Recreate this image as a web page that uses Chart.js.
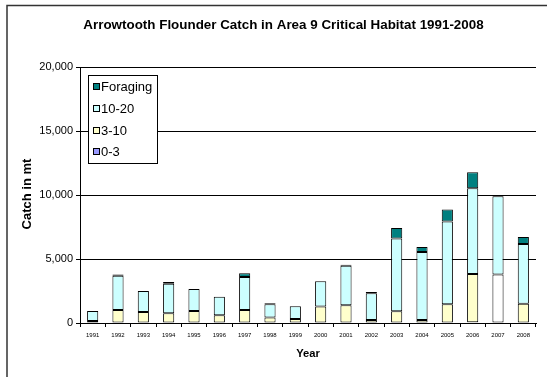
<!DOCTYPE html>
<html>
<head>
<meta charset="utf-8">
<script src="https://cdn.jsdelivr.net/npm/chart.js@4.4.1/dist/chart.umd.min.js"></script>
<style>
html,body{margin:0;padding:0;background:#fff;}
#wrap{width:547px;height:377px;position:relative;}
</style>
</head>
<body>
<div id="wrap"><canvas id="c" width="547" height="377"></canvas></div>
<script>
const chartTitle = 'Arrowtooth Flounder Catch in Area 9 Critical Habitat 1991-2008';
const xTitle = 'Year';
const yTitle = 'Catch in mt';
const years = ['1991','1992','1993','1994','1995','1996','1997','1998','1999','2000','2001','2002','2003','2004','2005','2006','2007','2008'];
const seriesNames = ['0-3','3-10','10-20','Foraging'];
const catch0to3 =   [0, 40, 0, 0, 0, 0, 0, 0, 0, 0, 0, 0, 0, 0, 0, 60, 0, 0];
const catch3to10 =  [150, 970, 860, 755, 940, 600, 1015, 420, 310, 1280, 1380, 235, 910, 235, 1460, 3770, 3780, 1510];
const catch10to20 = [790, 2680, 1640, 2320, 1720, 1460, 2580, 1040, 990, 1980, 3100, 2080, 5700, 5310, 6460, 6690, 6120, 4660];
const catchForaging = [0, 100, 0, 130, 0, 0, 290, 80, 0, 0, 80, 100, 810, 390, 940, 1250, 50, 550];
const yTicks = [0, 5000, 10000, 15000, 20000];

const col3to10 = years.map(y => y === '2007' ? '#FFFFFF' : '#FFFFCC');

const FONT = 'Arial, "Liberation Sans", sans-serif';

const decor = {
  id: 'decor',
  afterDraw(chart) {
    const ctx = chart.ctx;
    const ca = chart.chartArea;
    ctx.save();
    // outer frame
    ctx.strokeStyle = '#333';
    ctx.lineWidth = 1.5;
    ctx.beginPath();
    ctx.moveTo(7, 400);
    ctx.lineTo(7, 5.5);
    ctx.lineTo(600, 5.5);
    ctx.stroke();
    // title
    ctx.fillStyle = '#000';
    ctx.font = 'bold 13.4px ' + FONT;
    ctx.textAlign = 'center';
    ctx.textBaseline = 'middle';
    ctx.fillText(chartTitle, 283.5, 25);
    // x title
    ctx.font = 'bold 11.2px ' + FONT;
    ctx.fillText(xTitle, (ca.left + ca.right) / 2, 354);
    // y title
    ctx.save();
    ctx.font = 'bold 13px ' + FONT;
    ctx.translate(27, 194);
    ctx.rotate(-Math.PI / 2);
    ctx.fillText(yTitle, 0, 0);
    ctx.restore();
    // legend
    const lx = 88, ly = 75, lw = 69, lh = 88;
    ctx.fillStyle = '#fff';
    ctx.fillRect(lx, ly, lw, lh);
    ctx.strokeStyle = '#000';
    ctx.lineWidth = 1;
    ctx.strokeRect(lx + 0.5, ly + 0.5, lw, lh);
    const ds = chart.data.datasets.slice().reverse();
    const rows = [87, 109, 131, 152];
    ctx.font = '13px ' + FONT;
    ctx.textAlign = 'left';
    ds.forEach((d, i) => {
      const y = rows[i];
      const bg = Array.isArray(d.backgroundColor) ? d.backgroundColor[0] : d.backgroundColor;
      ctx.fillStyle = bg;
      ctx.fillRect(93.5, y - 3.5, 6, 6);
      ctx.strokeStyle = '#000';
      ctx.strokeRect(93.5, y - 3.5, 6, 6);
      ctx.fillStyle = '#000';
      ctx.fillText(d.label, 101, y);
    });
    ctx.restore();
  }
};

new Chart(document.getElementById('c'), {
  type: 'bar',
  data: {
    labels: years,
    datasets: [
      { label: seriesNames[0], data: catch0to3, backgroundColor: '#9999FF' },
      { label: seriesNames[1], data: catch3to10, backgroundColor: col3to10 },
      { label: seriesNames[2], data: catch10to20, backgroundColor: '#CCFFFF' },
      { label: seriesNames[3], data: catchForaging, backgroundColor: '#008080' }
    ]
  },
  options: {
    responsive: false,
    animation: false,
    devicePixelRatio: 1,
    layout: { padding: { left: 0, right: 11, top: 67, bottom: 0 } },
    datasets: { bar: { barPercentage: 0.44, categoryPercentage: 1, borderColor: '#000', borderWidth: 1, borderSkipped: false } },
    plugins: { legend: { display: false }, title: { display: false }, tooltip: { enabled: false } },
    scales: {
      x: {
        stacked: true,
        grid: { display: true, drawOnChartArea: false, color: '#000', tickLength: 4, offset: true },
        border: { color: '#000', width: 1 },
        ticks: { color: '#000', font: { size: 6, family: FONT }, maxRotation: 0, autoSkip: false, padding: 5 },
        afterFit(s) { s.height = 54; }
      },
      y: {
        stacked: true,
        min: 0, max: 20000,
        afterBuildTicks(s) { s.ticks = yTicks.map(v => ({ value: v })); },
        grid: { color: '#000', tickLength: 4, lineWidth: 1 },
        border: { color: '#000', width: 1 },
        ticks: { color: '#000', font: { size: 11, family: FONT }, padding: 3,
          callback: v => v.toLocaleString('en-US') },
        afterFit(s) { s.width = 80; }
      }
    }
  },
  plugins: [decor]
});
</script>
</body>
</html>
